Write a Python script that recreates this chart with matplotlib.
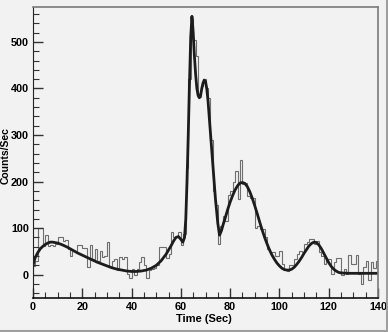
import numpy as np
import matplotlib
matplotlib.use('Agg')
import matplotlib.pyplot as plt
from matplotlib.ticker import MultipleLocator
from matplotlib.lines import Line2D

# histogram counts, 1 sec bins from 0 to 140
counts = [18, 30, 100, 100, 62, 85, 62, 64, 62, 65,
          82, 82, 73, 74, 55, 41, 52, 52, 64, 64,
          57, 57, 16, 64, 34, 55, 30, 52, 38, 41,
          70, 16, 30, 34, 11, 38, 34, 38, 2, -8,
          13, 0, 13, 27, 38, 20, -8, 10, 12, 15,
          20, 59, 59, 60, 35, 45, 92, 80, 80, 91,
          64, 87, 230, 420, 550, 505, 470, 382, 405, 420,
          400, 380, 290, 179, 150, 66, 105, 126, 116, 172,
          179, 200, 222, 162, 247, 194, 197, 169, 165, 165,
          101, 105, 98, 98, 80, 55, 48, 48, 41, 41,
          52, 23, 13, 9, 20, 20, 34, 45, 52, 48,
          66, 70, 77, 77, 66, 73, 48, 41, 23, 34,
          34, 2, 27, 35, 35, -1, 13, 2, 43, 23,
          23, 43, 2, -19, 16, 30, -12, 27, 15, 29]
edges = np.arange(0, 141, 1)

# fitted curve
fit_t = [0, 0.5, 1, 2, 3, 4, 5, 6, 7, 8, 9, 10, 12, 14, 16, 18, 20, 22, 24, 26,
         28, 30, 32, 34, 36, 38, 40, 42, 44, 46, 48, 50, 52, 54, 56, 57, 58, 59,
         60, 60.8, 61.5, 62, 62.5, 63, 63.5, 64, 64.5, 65, 65.5, 66, 66.5, 67,
         67.5, 68, 68.5, 69, 69.5, 70, 70.5, 71, 71.5, 72, 73, 74, 75, 75.7,
         76.5, 77, 78, 79, 80, 81, 82, 83, 84, 85, 86, 87, 88, 89, 90, 91, 92,
         93, 94, 95, 96, 97, 98, 99, 100, 101, 102, 103, 104, 105, 106, 107,
         108, 109, 110, 111, 112, 113, 114, 115, 116, 117, 118, 119, 120, 121,
         122, 123, 124, 125, 126, 128, 130, 135, 140]
fit_v = [20, 30, 38, 48, 56, 61, 65, 68, 70, 70, 69, 68, 64, 59, 53, 47, 42, 37, 32, 27,
         23, 19, 15, 12, 10, 8, 7, 7, 8, 10, 14, 20, 30, 44, 62, 72, 80, 82,
         76, 70, 80, 120, 200, 300, 410, 510, 555, 520, 470, 430, 400, 385,
         380, 385, 400, 412, 418, 415, 400, 375, 340, 305, 235, 165, 110, 85,
         95, 105, 122, 140, 156, 170, 182, 191, 197, 198, 196, 189, 178, 164, 148, 131, 113,
         96, 80, 66, 53, 42, 33, 25, 19, 14, 11, 10, 10, 12, 16, 22,
         29, 37, 46, 54, 62, 67, 70, 69, 64, 56, 46, 36, 26, 18,
         12, 8, 5, 4, 3.5, 3, 3, 3, 3]

bg = '#f2f2f2'
fig = plt.figure(figsize=(3.88, 3.32), dpi=100, facecolor=bg)
ax = fig.add_axes([33/388, 1-298/332, (378-33)/388, (298-7)/332])
ax.set_facecolor(bg)

ax.stairs(counts, edges, color='#6e6e6e', lw=0.8)
ax.plot(fit_t, fit_v, color='#1c1c1c', lw=2.0, solid_joinstyle='round')

ax.set_xlim(0, 140)
ax.set_ylim(-50, 575)
ax.xaxis.set_major_locator(MultipleLocator(20))
ax.xaxis.set_minor_locator(MultipleLocator(5))
ax.yaxis.set_major_locator(MultipleLocator(100))
ax.yaxis.set_minor_locator(MultipleLocator(20))
ax.tick_params(which='both', direction='in', top=False, right=False,
               labelsize=7.8, pad=3, color='#333333')
ax.tick_params(which='major', length=7, width=1)
ax.tick_params(which='minor', length=4, width=0.8)
for lab in ax.get_xticklabels() + ax.get_yticklabels():
    lab.set_fontfamily('Liberation Sans')
    lab.set_fontweight('bold')

ax.spines['left'].set_color('#222222')
ax.spines['bottom'].set_color('#111111')
ax.spines['bottom'].set_linewidth(1.2)
ax.spines['top'].set_color('#7a7a7a')
ax.spines['right'].set_color('#7a7a7a')
ax.spines['top'].set_linewidth(1.2)
ax.spines['right'].set_linewidth(1.2)

ax.set_xlabel('Time (Sec)', fontsize=8, fontweight='bold',
              family='Liberation Sans')
ax.set_ylabel('Counts/Sec', fontsize=7.5, fontweight='bold',
              family='Liberation Sans')
ax.xaxis.set_label_coords(0.496, -0.055)
ax.yaxis.set_label_coords(-0.066, 0.49)

# canvas border
fig.add_artist(Line2D([0, 1], [0.003, 0.003], transform=fig.transFigure, color='#a0a0a0', lw=1.5))
fig.add_artist(Line2D([0.997, 0.997], [0, 1], transform=fig.transFigure, color='#a0a0a0', lw=1.5))

fig.savefig('out.png', dpi=100, facecolor=bg)
